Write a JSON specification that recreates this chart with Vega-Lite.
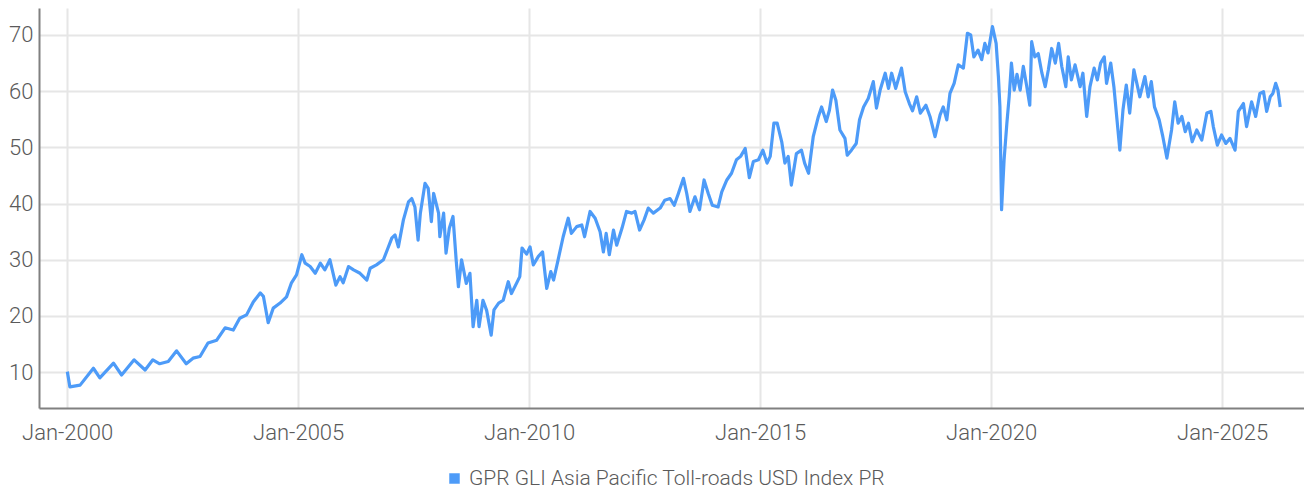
{
  "$schema": "https://vega.github.io/schema/vega-lite/v6.json",
  "width": 1265,
  "height": 400,
  "autosize": "none",
  "padding": {"left": 39, "top": 8, "right": 0, "bottom": 85},
  "background": "white",
  "config": {
    "view": {"stroke": null},
    "font": "Roboto, sans-serif"
  },
  "data": {
    "values": [
      {"d": "2000-01-03", "v": 10.1}, {"d": "2000-01-23", "v": 7.4}, {"d": "2000-04-13", "v": 7.7}, {"d": "2000-07-27", "v": 10.7},
      {"d": "2000-09-16", "v": 9.0}, {"d": "2001-01-02", "v": 11.6}, {"d": "2001-03-07", "v": 9.5}, {"d": "2001-06-14", "v": 12.2},
      {"d": "2001-09-09", "v": 10.4}, {"d": "2001-11-09", "v": 12.2}, {"d": "2002-01-02", "v": 11.5}, {"d": "2002-03-11", "v": 11.9},
      {"d": "2002-05-16", "v": 13.8}, {"d": "2002-07-31", "v": 11.5}, {"d": "2002-09-23", "v": 12.5}, {"d": "2002-11-17", "v": 12.8},
      {"d": "2003-01-19", "v": 15.2}, {"d": "2003-03-29", "v": 15.7}, {"d": "2003-06-03", "v": 17.9}, {"d": "2003-08-07", "v": 17.5},
      {"d": "2003-09-27", "v": 19.6}, {"d": "2003-11-20", "v": 20.2}, {"d": "2004-01-12", "v": 22.5}, {"d": "2004-03-07", "v": 24.1},
      {"d": "2004-04-01", "v": 23.5}, {"d": "2004-05-09", "v": 18.8}, {"d": "2004-06-18", "v": 21.4}, {"d": "2004-08-11", "v": 22.3},
      {"d": "2004-10-01", "v": 23.4}, {"d": "2004-11-09", "v": 25.9}, {"d": "2004-12-19", "v": 27.3}, {"d": "2005-01-30", "v": 30.9},
      {"d": "2005-02-25", "v": 29.4}, {"d": "2005-04-06", "v": 28.8}, {"d": "2005-05-16", "v": 27.6}, {"d": "2005-06-25", "v": 29.4},
      {"d": "2005-07-31", "v": 28.2}, {"d": "2005-09-09", "v": 30.0}, {"d": "2005-10-26", "v": 25.5}, {"d": "2005-11-28", "v": 27.0},
      {"d": "2005-12-23", "v": 25.9}, {"d": "2006-02-03", "v": 28.8}, {"d": "2006-03-15", "v": 28.2}, {"d": "2006-05-05", "v": 27.6},
      {"d": "2006-06-28", "v": 26.4}, {"d": "2006-07-24", "v": 28.5}, {"d": "2006-09-12", "v": 29.1}, {"d": "2006-11-06", "v": 30.0},
      {"d": "2006-12-12", "v": 32.1}, {"d": "2007-01-12", "v": 33.9}, {"d": "2007-02-06", "v": 34.4}, {"d": "2007-03-04", "v": 32.3},
      {"d": "2007-04-13", "v": 37.1}, {"d": "2007-05-23", "v": 40.3}, {"d": "2007-06-18", "v": 40.9}, {"d": "2007-07-13", "v": 39.4},
      {"d": "2007-08-07", "v": 33.5}, {"d": "2007-08-25", "v": 38.3}, {"d": "2007-10-01", "v": 43.6}, {"d": "2007-10-26", "v": 42.7},
      {"d": "2007-11-20", "v": 36.8}, {"d": "2007-12-08", "v": 41.8}, {"d": "2008-01-16", "v": 38.3}, {"d": "2008-01-26", "v": 34.1},
      {"d": "2008-02-25", "v": 38.3}, {"d": "2008-03-15", "v": 31.2}, {"d": "2008-04-10", "v": 35.6}, {"d": "2008-05-09", "v": 37.7},
      {"d": "2008-06-03", "v": 30.0}, {"d": "2008-06-21", "v": 25.2}, {"d": "2008-07-16", "v": 30.0}, {"d": "2008-08-22", "v": 25.8},
      {"d": "2008-09-20", "v": 27.6}, {"d": "2008-10-15", "v": 18.1}, {"d": "2008-11-13", "v": 22.8}, {"d": "2008-12-01", "v": 18.1},
      {"d": "2009-01-01", "v": 22.8}, {"d": "2009-01-30", "v": 21.0}, {"d": "2009-03-07", "v": 16.6}, {"d": "2009-03-29", "v": 21.1},
      {"d": "2009-05-05", "v": 22.3}, {"d": "2009-06-10", "v": 22.8}, {"d": "2009-07-20", "v": 26.1}, {"d": "2009-08-14", "v": 24.0},
      {"d": "2009-09-23", "v": 25.8}, {"d": "2009-10-19", "v": 27.0}, {"d": "2009-11-06", "v": 32.1}, {"d": "2009-12-12", "v": 31.0},
      {"d": "2010-01-08", "v": 32.3}, {"d": "2010-02-03", "v": 29.1}, {"d": "2010-03-15", "v": 30.6}, {"d": "2010-04-17", "v": 31.4},
      {"d": "2010-05-20", "v": 24.9}, {"d": "2010-06-21", "v": 27.9}, {"d": "2010-07-13", "v": 26.4}, {"d": "2010-08-18", "v": 30.0},
      {"d": "2010-09-27", "v": 34.1}, {"d": "2010-11-06", "v": 37.4}, {"d": "2010-12-01", "v": 34.7}, {"d": "2011-01-12", "v": 35.9},
      {"d": "2011-02-21", "v": 36.2}, {"d": "2011-03-15", "v": 34.1}, {"d": "2011-04-28", "v": 38.6}, {"d": "2011-06-07", "v": 37.4},
      {"d": "2011-07-16", "v": 35.0}, {"d": "2011-08-11", "v": 31.4}, {"d": "2011-09-02", "v": 34.7}, {"d": "2011-09-27", "v": 30.9},
      {"d": "2011-10-30", "v": 35.3}, {"d": "2011-11-24", "v": 32.6}, {"d": "2012-01-05", "v": 35.6}, {"d": "2012-02-10", "v": 38.6},
      {"d": "2012-03-22", "v": 38.3}, {"d": "2012-04-17", "v": 38.6}, {"d": "2012-05-23", "v": 35.3}, {"d": "2012-06-28", "v": 37.1},
      {"d": "2012-07-31", "v": 39.2}, {"d": "2012-09-09", "v": 38.3}, {"d": "2012-11-02", "v": 39.2}, {"d": "2012-12-08", "v": 40.6},
      {"d": "2013-01-19", "v": 40.9}, {"d": "2013-02-21", "v": 39.7}, {"d": "2013-03-26", "v": 41.8}, {"d": "2013-05-05", "v": 44.5},
      {"d": "2013-05-31", "v": 41.8}, {"d": "2013-06-25", "v": 38.6}, {"d": "2013-08-04", "v": 41.2}, {"d": "2013-09-09", "v": 38.9},
      {"d": "2013-10-15", "v": 44.2}, {"d": "2013-11-17", "v": 41.8}, {"d": "2013-12-19", "v": 39.7}, {"d": "2014-02-03", "v": 39.4},
      {"d": "2014-03-04", "v": 42.1}, {"d": "2014-04-13", "v": 44.2}, {"d": "2014-05-20", "v": 45.4}, {"d": "2014-06-28", "v": 47.8},
      {"d": "2014-07-31", "v": 48.4}, {"d": "2014-09-05", "v": 49.8}, {"d": "2014-10-08", "v": 44.6}, {"d": "2014-11-09", "v": 47.5},
      {"d": "2014-12-19", "v": 47.8}, {"d": "2015-01-23", "v": 49.5}, {"d": "2015-02-25", "v": 47.2}, {"d": "2015-03-22", "v": 48.4},
      {"d": "2015-04-20", "v": 54.3}, {"d": "2015-05-16", "v": 54.3}, {"d": "2015-06-21", "v": 51.0}, {"d": "2015-07-16", "v": 47.2},
      {"d": "2015-08-11", "v": 48.4}, {"d": "2015-09-05", "v": 43.3}, {"d": "2015-10-15", "v": 48.9}, {"d": "2015-11-24", "v": 49.5},
      {"d": "2015-12-19", "v": 47.2}, {"d": "2016-01-19", "v": 45.4}, {"d": "2016-02-25", "v": 51.9}, {"d": "2016-04-06", "v": 55.5},
      {"d": "2016-05-01", "v": 57.2}, {"d": "2016-06-07", "v": 54.6}, {"d": "2016-07-02", "v": 56.6}, {"d": "2016-07-27", "v": 60.2},
      {"d": "2016-08-22", "v": 58.4}, {"d": "2016-09-23", "v": 53.1}, {"d": "2016-11-02", "v": 51.6}, {"d": "2016-11-20", "v": 48.6},
      {"d": "2016-12-23", "v": 49.5}, {"d": "2017-01-30", "v": 50.7}, {"d": "2017-02-25", "v": 54.9}, {"d": "2017-03-29", "v": 57.2},
      {"d": "2017-05-05", "v": 58.7}, {"d": "2017-06-14", "v": 61.7}, {"d": "2017-07-09", "v": 57.0}, {"d": "2017-08-07", "v": 60.2},
      {"d": "2017-09-16", "v": 63.2}, {"d": "2017-10-12", "v": 60.5}, {"d": "2017-11-06", "v": 63.2}, {"d": "2017-12-08", "v": 60.5},
      {"d": "2018-01-23", "v": 64.1}, {"d": "2018-02-21", "v": 59.9}, {"d": "2018-03-26", "v": 57.8}, {"d": "2018-04-20", "v": 56.5},
      {"d": "2018-05-23", "v": 59.0}, {"d": "2018-06-21", "v": 56.1}, {"d": "2018-08-04", "v": 57.5}, {"d": "2018-09-05", "v": 55.5},
      {"d": "2018-10-15", "v": 51.9}, {"d": "2018-11-24", "v": 55.8}, {"d": "2018-12-19", "v": 57.2}, {"d": "2019-01-16", "v": 54.9},
      {"d": "2019-02-10", "v": 59.6}, {"d": "2019-03-15", "v": 61.4}, {"d": "2019-04-17", "v": 64.7}, {"d": "2019-05-27", "v": 64.1},
      {"d": "2019-06-28", "v": 70.3}, {"d": "2019-07-24", "v": 70.0}, {"d": "2019-08-18", "v": 66.1}, {"d": "2019-09-20", "v": 67.3},
      {"d": "2019-10-19", "v": 65.6}, {"d": "2019-11-13", "v": 68.5}, {"d": "2019-12-08", "v": 66.8}, {"d": "2020-01-12", "v": 71.5},
      {"d": "2020-02-10", "v": 68.5}, {"d": "2020-02-28", "v": 62.6}, {"d": "2020-03-11", "v": 57.2}, {"d": "2020-03-24", "v": 38.9},
      {"d": "2020-04-13", "v": 47.8}, {"d": "2020-05-05", "v": 54.3}, {"d": "2020-05-23", "v": 59.0}, {"d": "2020-06-10", "v": 65.0},
      {"d": "2020-07-02", "v": 60.2}, {"d": "2020-07-24", "v": 63.0}, {"d": "2020-08-18", "v": 60.2}, {"d": "2020-09-12", "v": 64.4},
      {"d": "2020-10-08", "v": 61.0}, {"d": "2020-11-02", "v": 57.5}, {"d": "2020-11-17", "v": 68.8}, {"d": "2020-12-12", "v": 66.1},
      {"d": "2021-01-08", "v": 66.7}, {"d": "2021-02-06", "v": 63.2}, {"d": "2021-03-04", "v": 60.8}, {"d": "2021-03-29", "v": 63.8},
      {"d": "2021-04-24", "v": 67.6}, {"d": "2021-05-23", "v": 65.0}, {"d": "2021-06-18", "v": 68.5}, {"d": "2021-07-13", "v": 64.4},
      {"d": "2021-08-14", "v": 60.8}, {"d": "2021-09-02", "v": 66.1}, {"d": "2021-09-27", "v": 62.0}, {"d": "2021-10-26", "v": 64.7},
      {"d": "2021-12-05", "v": 60.8}, {"d": "2021-12-27", "v": 63.2}, {"d": "2022-01-26", "v": 55.5}, {"d": "2022-02-21", "v": 60.8},
      {"d": "2022-03-26", "v": 64.1}, {"d": "2022-04-20", "v": 62.0}, {"d": "2022-05-16", "v": 65.0}, {"d": "2022-06-14", "v": 66.1},
      {"d": "2022-07-02", "v": 61.4}, {"d": "2022-08-04", "v": 65.0}, {"d": "2022-08-29", "v": 60.8}, {"d": "2022-09-20", "v": 55.5},
      {"d": "2022-10-15", "v": 49.5}, {"d": "2022-11-09", "v": 56.7}, {"d": "2022-12-05", "v": 61.1}, {"d": "2023-01-01", "v": 56.1},
      {"d": "2023-02-03", "v": 63.8}, {"d": "2023-03-22", "v": 59.0}, {"d": "2023-05-01", "v": 62.6}, {"d": "2023-05-27", "v": 59.0},
      {"d": "2023-06-21", "v": 61.7}, {"d": "2023-07-16", "v": 57.2}, {"d": "2023-08-22", "v": 54.9}, {"d": "2023-09-20", "v": 51.9},
      {"d": "2023-10-22", "v": 48.1}, {"d": "2023-11-28", "v": 53.1}, {"d": "2023-12-23", "v": 58.1}, {"d": "2024-01-19", "v": 54.3},
      {"d": "2024-02-17", "v": 55.5}, {"d": "2024-03-15", "v": 52.8}, {"d": "2024-04-10", "v": 54.3}, {"d": "2024-05-09", "v": 51.0},
      {"d": "2024-06-14", "v": 53.1}, {"d": "2024-07-24", "v": 51.3}, {"d": "2024-09-02", "v": 56.1}, {"d": "2024-10-04", "v": 56.4},
      {"d": "2024-10-23", "v": 53.7}, {"d": "2024-11-24", "v": 50.4}, {"d": "2024-12-27", "v": 52.2}, {"d": "2025-01-30", "v": 50.7},
      {"d": "2025-03-04", "v": 51.6}, {"d": "2025-04-13", "v": 49.5}, {"d": "2025-05-09", "v": 56.4}, {"d": "2025-06-18", "v": 57.8},
      {"d": "2025-07-13", "v": 53.7}, {"d": "2025-08-22", "v": 58.1}, {"d": "2025-09-23", "v": 55.5}, {"d": "2025-10-26", "v": 59.6},
      {"d": "2025-11-24", "v": 59.9}, {"d": "2025-12-19", "v": 56.4}, {"d": "2026-01-16", "v": 59.0}, {"d": "2026-02-06", "v": 59.6},
      {"d": "2026-02-28", "v": 61.4}, {"d": "2026-03-18", "v": 60.2}, {"d": "2026-04-05", "v": 57.2}
    ]
  },
  "mark": {"type": "line", "strokeWidth": 3.2, "strokeJoin": "round"},
  "encoding": {
    "x": {
      "field": "d",
      "type": "temporal",
      "title": null,
      "scale": {"type": "utc", "domain": ["1999-05-24", "2026-10-10"], "nice": false},
      "axis": {
        "values": [
          {"year": 2000, "month": 1, "date": 1, "utc": true},
          {"year": 2005, "month": 1, "date": 1, "utc": true},
          {"year": 2010, "month": 1, "date": 1, "utc": true},
          {"year": 2015, "month": 1, "date": 1, "utc": true},
          {"year": 2020, "month": 1, "date": 1, "utc": true},
          {"year": 2025, "month": 1, "date": 1, "utc": true}
        ],
        "format": "%b-%Y",
        "labelFontSize": 22,
        "labelFontWeight": 300,
        "labelColor": "#5a5a5a",
        "labelPadding": 14,
        "ticks": false,
        "domainColor": "#808080",
        "domainWidth": 2,
        "grid": true,
        "gridColor": "#e6e6e6",
        "gridWidth": 2
      }
    },
    "y": {
      "field": "v",
      "type": "quantitative",
      "title": null,
      "scale": {"domain": [3.63, 74.8], "nice": false, "zero": false},
      "axis": {
        "values": [10, 20, 30, 40, 50, 60, 70],
        "labelFontSize": 22,
        "labelFontWeight": 300,
        "labelColor": "#5a5a5a",
        "labelPadding": 6,
        "ticks": false,
        "domainColor": "#808080",
        "domainWidth": 2,
        "grid": true,
        "gridColor": "#e6e6e6",
        "gridWidth": 2
      }
    },
    "color": {
      "datum": "GPR GLI Asia Pacific Toll-roads USD Index PR",
      "type": "nominal",
      "scale": {"range": ["#4d9bf8"]},
      "legend": {
        "title": null,
        "orient": "none",
        "legendX": 405,
        "legendY": 460,
        "symbolType": "square",
        "symbolSize": 110,
        "symbolStrokeWidth": 0,
        "symbolFillColor": "#4d9bf8",
        "labelFontSize": 21,
        "labelFontWeight": 300,
        "labelColor": "#5a5a5a",
        "labelLimit": 600,
        "labelOffset": 4
      }
    }
  }
}
